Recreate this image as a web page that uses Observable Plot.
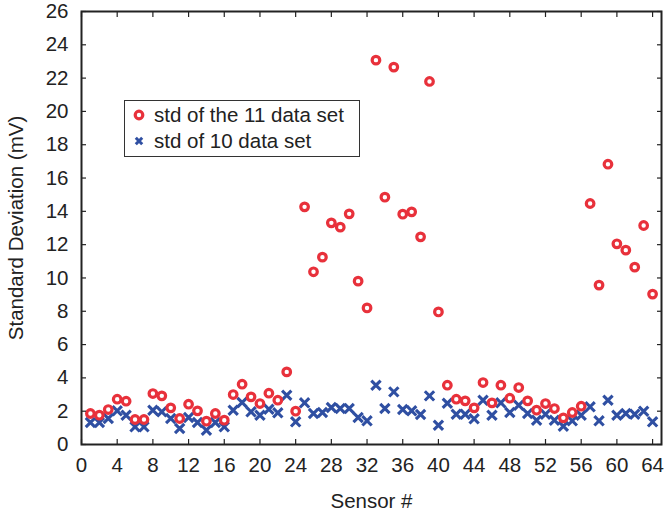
<!DOCTYPE html>
<html>
<head>
<meta charset="utf-8">
<script src="https://cdn.jsdelivr.net/npm/d3@7"></script>
<script src="https://cdn.jsdelivr.net/npm/@observablehq/plot@0.6"></script>
<style>
  html, body { margin: 0; padding: 0; background: #fff; }
  #wrap { position: relative; width: 665px; height: 515px; font-family: "Liberation Sans", Arial, sans-serif; }
  #legend { position: absolute; left: 124px; top: 100px; width: 236px; height: 57px; border: 1.3px solid #333; background: #fff; box-sizing: border-box; font-size: 20.5px; color: #222; }
  #legend .row { position: absolute; left: 6px; display: flex; align-items: center; white-space: nowrap; }
  #legend svg { margin-right: 7px; }
</style>
</head>
<body>
<div id="wrap"></div>
<script>
const sensors = d3.range(1, 65);
const std11 = [
  1.86, 1.76, 2.1, 2.72, 2.6, 1.5, 1.5, 3.06, 2.92, 2.2,
  1.56, 2.42, 2.02, 1.4, 1.86, 1.46, 3.0, 3.62, 2.86, 2.46,
  3.08, 2.66, 4.36, 2.0, 14.27, 10.37, 11.25, 13.31, 13.05, 13.85,
  9.81, 8.2, 23.08, 14.85, 22.66, 13.83, 13.97, 12.47, 21.8, 7.96,
  3.56, 2.72, 2.62, 2.2, 3.72, 2.5, 3.56, 2.78, 3.42, 2.62,
  2.06, 2.46, 2.16, 1.6, 1.92, 2.3, 14.47, 9.57, 16.83, 12.05,
  11.67, 10.65, 13.15, 9.03
];
const std10 = [
  1.32, 1.32, 1.56, 2.02, 1.76, 1.06, 1.06, 2.06, 1.96, 1.56,
  0.96, 1.62, 1.32, 0.86, 1.32, 1.06, 2.06, 2.52, 1.96, 1.76,
  2.12, 1.9, 2.96, 1.36, 2.5, 1.86, 1.92, 2.22, 2.16, 2.16,
  1.62, 1.42, 3.56, 2.16, 3.16, 2.1, 2.02, 1.8, 2.92, 1.16,
  2.48, 1.82, 1.82, 1.54, 2.66, 1.76, 2.5, 1.92, 2.36, 1.86,
  1.46, 1.82, 1.46, 1.1, 1.42, 1.76, 2.26, 1.42, 2.66, 1.76,
  1.86, 1.82, 2.0, 1.36
];
const xTicks = d3.range(0, 65, 4);
const yTicks = d3.range(0, 27, 2);
const seriesLabels = ["std of the 11 data set", "std of 10 data set"];
const red = "#e8313b";
const blue = "#2f4fa2";

const data11 = sensors.map((s, i) => ({sensor: s, v: std11[i]}));
const data10 = sensors.map((s, i) => ({sensor: s, v: std10[i]}));

const chart = Plot.plot({
  width: 665,
  height: 515,
  marginLeft: 81,
  marginRight: 4,
  marginTop: 11,
  marginBottom: 71,
  style: {fontFamily: "Liberation Sans, Arial, sans-serif", fontSize: "20.5px", color: "#222", background: "#fff"},
  x: {domain: [0, 65], ticks: xTicks},
  y: {domain: [0, 26], ticks: yTicks},
  marks: [
    Plot.dot(data10, {x: "sensor", y: "v", symbol: "times", r: 4.3, stroke: blue, strokeWidth: 3.1}),
    Plot.dot(data11, {x: "sensor", y: "v", symbol: "circle", r: 3.8, stroke: red, strokeWidth: 3.2, fill: "#fff"}),
    Plot.axisX(xTicks, {anchor: "bottom", tickSize: 0, tickPadding: 13, label: "Sensor #", labelAnchor: "center", labelArrow: "none", labelOffset: 63, fontSize: 20.5}),
    Plot.axisX(xTicks, {anchor: "bottom", tickSize: -5, tickFormat: () => "", label: null, strokeWidth: 1.2}),
    Plot.axisX(xTicks, {anchor: "top", tickSize: -5, tickFormat: () => "", label: null, strokeWidth: 1.2}),
    Plot.axisY(yTicks, {anchor: "left", tickSize: 0, tickPadding: 13, label: "Standard Deviation (mV)", labelAnchor: "center", labelArrow: "none", labelOffset: 73, fontSize: 20.5}),
    Plot.axisY(yTicks, {anchor: "left", tickSize: -5, tickFormat: () => "", label: null, strokeWidth: 1.2}),
    Plot.axisY(yTicks, {anchor: "right", tickSize: -5, tickFormat: () => "", label: null, strokeWidth: 1.2}),
    Plot.frame({stroke: "#222", strokeWidth: 2})
  ]
});
const wrap = document.getElementById("wrap");
wrap.appendChild(chart);

const legend = document.createElement("div");
legend.id = "legend";
legend.innerHTML = `
  <div class="row" style="top:2px">
    <svg width="16" height="20" viewBox="-8 -10 16 20"><circle r="3.8" fill="#fff" stroke="${red}" stroke-width="3.2"/></svg>
    <span>${seriesLabels[0]}</span>
  </div>
  <div class="row" style="top:28px">
    <svg width="16" height="20" viewBox="-8 -10 16 20"><path d="M-3.2,-3.2L3.2,3.2M3.2,-3.2L-3.2,3.2" stroke="${blue}" stroke-width="3"/></svg>
    <span>${seriesLabels[1]}</span>
  </div>`;
wrap.appendChild(legend);
</script>
</body>
</html>
